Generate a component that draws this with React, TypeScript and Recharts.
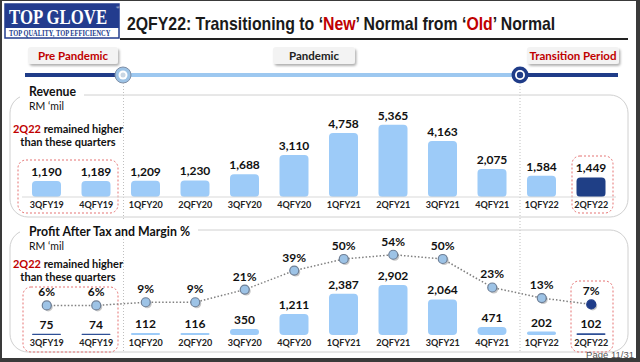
import { BarChart, Bar, ComposedChart, Line, XAxis, YAxis, LabelList, Cell } from "recharts"

const quarters = [
  "3QFY19", "4QFY19", "1QFY20", "2QFY20", "3QFY20", "4QFY20",
  "1QFY21", "2QFY21", "3QFY21", "4QFY21", "1QFY22", "2QFY22",
]
const revenue = [1190, 1189, 1209, 1230, 1688, 3110, 4758, 5365, 4163, 2075, 1584, 1449]
const profit = [75, 74, 112, 116, 350, 1211, 2387, 2902, 2064, 471, 202, 102]
const margin = [6, 6, 9, 9, 21, 39, 50, 54, 50, 23, 13, 7]
const revenueDark = ["2QFY22"]
const profitDark = ["3QFY19", "4QFY19", "2QFY22"]

const revenueData = quarters.map((q, i) => ({ q, value: revenue[i] }))
const profitData = quarters.map((q, i) => ({ q, pat: profit[i], margin: margin[i] }))

const LIGHT = "#9DCBF8"
const DARK = "#1F3F86"
const NAVY = "#1F3C88"
const RED = "#C00000"
const FONT = "Lato, 'Open Sans', sans-serif"
const fmt = (v: any) => Number(v).toLocaleString("en-US")

const tickStyle = { fontSize: 9, fontWeight: 700, fill: "#222", fontFamily: FONT }
const labelStyle = { fontSize: 12, fontWeight: 700, fill: "#111", fontFamily: FONT }

function MarginDot(props: any) {
  const { cx, cy, index } = props
  const last = index === quarters.length - 1
  return (
    <g key={`dot-${index}`}>
      <circle cx={cx + 1.5} cy={cy + 1.5} r={4.5} fill="#000" opacity={0.22} />
      <circle
        cx={cx}
        cy={cy}
        r={4.5}
        fill={last ? NAVY : "#9DC3E6"}
        stroke={last ? NAVY : "#6E7F96"}
        strokeWidth={1.2}
      />
    </g>
  )
}

function TagBox({ x, w, label, color }: { x: number; w: number; label: string; color: string }) {
  return (
    <g>
      <rect x={x} y={47} width={w} height={17} rx={3} fill="#F3F3F3" filter="url(#shadow)" />
      <text x={x + w / 2} y={59.5} textAnchor="middle" fontSize={11.5} fontWeight={700} fill={color} fontFamily={FONT}>
        {label}
      </text>
    </g>
  )
}

// two-line note next to the pre-pandemic quarters
function Note({ y }: { y: number }) {
  return (
    <g fontSize={11} fontWeight={700} fill="#111" fontFamily={FONT} textAnchor="middle">
      <text x={68} y={y}>
        <tspan fill={RED}>2Q22</tspan> remained higher
      </text>
      <text x={68} y={y + 13}>than these quarters</text>
    </g>
  )
}

function Backdrop() {
  return (
    <svg width={640} height={362} style={{ position: "absolute", left: 0, top: 0 }}>
      <defs>
        <filter id="shadow" x="-20%" y="-40%" width="140%" height="200%">
          <feDropShadow dx="1.5" dy="2" stdDeviation="1.2" floodColor="#000" floodOpacity="0.3" />
        </filter>
        <filter id="blur">
          <feGaussianBlur stdDeviation="1.5" />
        </filter>
      </defs>

      {/* logo */}
      <rect x={5} y={4} width={114} height={34} fill="#fff" stroke="#233C8E" strokeWidth={1.5} />
      <rect x={5} y={4} width={114} height={24} fill="#233C8E" />
      <g transform="translate(9,24) scale(0.8,1)">
        <text x={0} y={0} fontSize={21} fontWeight={700} fill="#fff" fontFamily="'Liberation Serif', serif">TOP GLOVE</text>
      </g>
      <text x={116} y={9} fontSize={5} fill="#fff" fontFamily="'Liberation Serif', serif">®</text>
      <g transform="translate(9,35.5) scale(0.86,1)">
        <text x={0} y={0} fontSize={7.5} fontWeight={700} fill="#233C8E" fontFamily="'Liberation Serif', serif">
          TOP QUALITY, TOP EFFICIENCY
        </text>
      </g>

      {/* title */}
      <g transform="translate(127,30) scale(0.88,1)">
        <text x={0} y={0} fontSize={18} fontWeight={700} fill="#1a1a1a" fontFamily="'Liberation Sans', Arial, sans-serif">
          2QFY22: Transitioning to ‘<tspan fill={RED}>New</tspan>’ Normal from ‘<tspan fill={RED}>Old</tspan>’ Normal
        </text>
      </g>
      <line x1={120} x2={628} y1={39} y2={39} stroke="#222" strokeWidth={1.8} />

      {/* timeline */}
      <line x1={130} x2={515} y1={78.5} y2={78.5} stroke="#000" strokeWidth={2} opacity={0.25} filter="url(#blur)" />
      <line x1={25} x2={123} y1={75} y2={75} stroke={NAVY} strokeWidth={4} />
      <line x1={123} x2={520} y1={75} y2={75} stroke="#9DC8F0" strokeWidth={4} />
      <line x1={520} x2={618} y1={75} y2={75} stroke={NAVY} strokeWidth={4} />
      <circle cx={123} cy={75} r={8} fill="#9DC3E6" stroke="#7F8FA6" strokeWidth={1} />
      <circle cx={123} cy={75} r={4.5} fill="#fff" />
      <circle cx={123} cy={75} r={2.5} fill="#C9D6E3" />
      <circle cx={520} cy={75} r={8.5} fill={NAVY} />
      <circle cx={520} cy={75} r={5} fill="#fff" />
      <circle cx={520} cy={75} r={3.2} fill={NAVY} />
      <TagBox x={28} w={90} label="Pre Pandemic" color={RED} />
      <TagBox x={273} w={82} label="Pandemic" color="#222" />
      <TagBox x={527} w={92} label="Transition Period" color={RED} />

      {/* separators */}
      <line x1={123.5} x2={123.5} y1={83} y2={352} stroke="#BFBFBF" strokeDasharray="1 2" />
      <line x1={520} x2={520} y1={83} y2={352} stroke="#BFBFBF" strokeDasharray="1 2" />

      {/* revenue panel */}
      <rect x={10} y={95} width={618} height={122} rx={18} fill="none" stroke="#D0D0D0" />
      <rect x={20} y={84} width={64} height={14} fill="#fff" />
      <text x={29} y={96} fontSize={13.5} fontWeight={700} fill="#111" fontFamily={FONT} textLength={47}
        lengthAdjust="spacingAndGlyphs">Revenue</text>
      <text x={29} y={110} fontSize={10.5} fill="#111" fontFamily={FONT}>RM ‘mil</text>
      <Note y={133} />

      {/* profit panel */}
      <rect x={10} y={230} width={618} height={122} rx={18} fill="none" stroke="#D0D0D0" />
      <rect x={20} y={220} width={178} height={14} fill="#fff" />
      <text x={29} y={236} fontSize={13.5} fontWeight={700} fill="#111" fontFamily={FONT} textLength={161}
        lengthAdjust="spacingAndGlyphs">Profit After Tax and Margin %</text>
      <text x={29} y={250} fontSize={10.5} fill="#111" fontFamily={FONT}>RM ‘mil</text>
      <Note y={268} />

      {/* highlight boxes */}
      <rect x={18} y={160} width={100} height={53} rx={8} fill="none" stroke="#E57373" strokeDasharray="2 2" />
      <rect x={572} y={156} width={41} height={57} rx={8} fill="none" stroke="#E57373" strokeDasharray="2 2" />
      <rect x={23} y={287} width={95} height={65} rx={8} fill="none" stroke="#E57373" strokeDasharray="2 2" />
      <rect x={571} y={281} width={42} height={71} rx={8} fill="none" stroke="#E57373" strokeDasharray="2 2" />
    </svg>
  )
}

function Frame() {
  return (
    <svg width={640} height={362} style={{ position: "absolute", left: 0, top: 0, pointerEvents: "none" }}>
      <text x={634} y={357.5} textAnchor="end" fontSize={9.5} fill="#555" fontFamily="'Liberation Sans', Arial, sans-serif">
        Page 11/31
      </text>
      <rect x={0} y={0} width={640} height={1} fill="#3A3A3A" />
      <rect x={0} y={0} width={2} height={362} fill="#3A3A3A" />
      <rect x={636} y={0} width={4} height={362} fill="#3A3A3A" />
      <rect x={0} y={358} width={640} height={4} fill="#3A3A3A" />
    </svg>
  )
}

export default function App() {
  return (
    <div style={{ position: "absolute", left: 0, top: 0, width: 640, height: 362, background: "#fff", overflow: "hidden" }}>
      <Backdrop />

      <div style={{ position: "absolute", left: 22, top: 90 }}>
        <BarChart width={594} height={125} data={revenueData} margin={{ top: 10, right: 0, bottom: 0, left: 0 }}>
          <XAxis dataKey="q" interval={0} height={18} tickLine={false} tickSize={0} tickMargin={5}
            axisLine={{ stroke: "#D9D9D9" }} tick={tickStyle} />
          <YAxis hide domain={[0, 7200]} />
          <Bar dataKey="value" barSize={29} radius={4} isAnimationActive={false}>
            {revenueData.map((d) => (
              <Cell key={d.q} fill={revenueDark.includes(d.q) ? DARK : LIGHT} />
            ))}
            <LabelList dataKey="value" position="top" offset={5} formatter={fmt} style={labelStyle} />
          </Bar>
        </BarChart>
      </div>

      <div style={{ position: "absolute", left: 22, top: 230 }}>
        <ComposedChart width={594} height={125} data={profitData} margin={{ top: 20, right: 0, bottom: 0, left: 0 }}>
          <XAxis dataKey="q" interval={0} height={20} tickLine={false} tickSize={0} tickMargin={5}
            axisLine={false} tick={tickStyle} />
          <YAxis yAxisId="pat" hide domain={[0, 4930]} />
          <YAxis yAxisId="margin" orientation="right" hide domain={[-22, 58.5]} />
          <Bar yAxisId="pat" dataKey="pat" barSize={29} radius={4} isAnimationActive={false}>
            {profitData.map((d) => (
              <Cell key={d.q} fill={profitDark.includes(d.q) ? "#2E4F96" : LIGHT} />
            ))}
            <LabelList dataKey="pat" position="top" offset={5} formatter={fmt} style={labelStyle} />
          </Bar>
          <Line yAxisId="margin" dataKey="margin" stroke="#7F7F7F" strokeWidth={1.5} strokeDasharray="1.5 2"
            dot={(p: any) => <MarginDot {...p} key={`m-${p.index}`} />} activeDot={false} isAnimationActive={false}>
            <LabelList dataKey="margin" position="top" offset={9} formatter={(v: any) => `${v}%`} style={labelStyle} />
          </Line>
        </ComposedChart>
      </div>

      <Frame />
    </div>
  )
}
